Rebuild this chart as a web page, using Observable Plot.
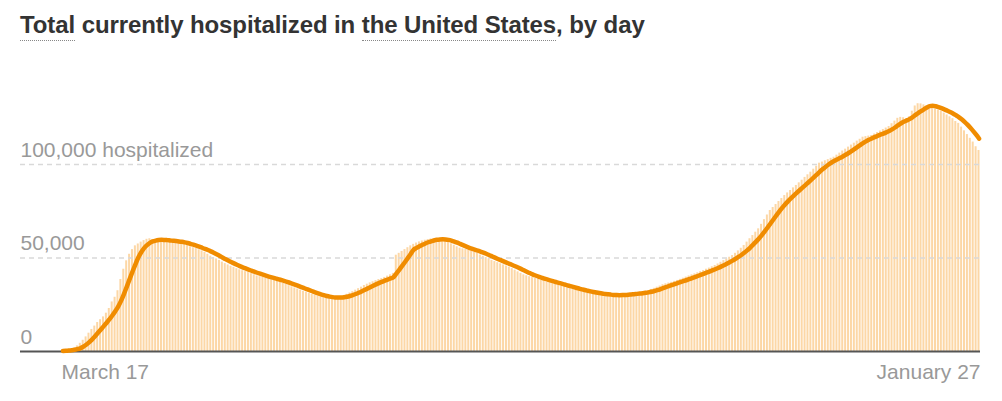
<!DOCTYPE html>
<html>
<head>
<meta charset="utf-8">
<script src="https://cdn.jsdelivr.net/npm/d3@7"></script>
<script src="https://cdn.jsdelivr.net/npm/@observablehq/plot@0.6"></script>
<style>
  body { margin: 0; background: #fff; font-family: "Liberation Sans", Arial, sans-serif; }
  #title { position: relative; height: 60px; }
  #title h2 { margin: 0; position: absolute; left: 20px; top: 11px; font-size: 24px; font-weight: bold; color: #333; line-height: 28px; white-space: nowrap; letter-spacing: -0.1px; }
  .u { border-bottom: 1px dotted #888; padding-bottom: 2px; }
  #chart svg { display: block; }
</style>
</head>
<body>
<div id="title"><h2><span class="u">Total</span> currently hospitalized in <span class="u">the United States</span>, by day</h2></div>
<div id="chart"></div>
<script>
// Daily "currently hospitalized" counts
const startDate = "2020-03-17";
const mar2020 = [300, 500, 800, 1200, 1800, 3000, 4400, 6000, 7800, 9800, 11800, 13600, 15500, 17000, 18500];
const apr2020 = [20500, 23000, 26500, 29000, 32500, 38500, 44000, 48500, 52000, 54500, 56500, 57500, 58500, 59300, 60000,
                 60300, 59800, 59600, 59500, 59400, 59200, 59100, 59000, 58700, 58500, 58200, 57800, 57200, 56600, 56000];
const may2020 = [55500, 55000, 54400, 53800, 53000, 52000, 51000, 50200, 49500, 48700, 47800, 47000, 46300, 45600, 45000, 44300,
                 43700, 43200, 42700, 42200, 41600, 41000, 40400, 40000, 39600, 39200, 38800, 38400, 38000, 37500, 37000];
const jun2020 = [36400, 35800, 35200, 34600, 34000, 33400, 32800, 32200, 31600, 31000, 30500, 30000, 29600, 29200, 28900,
                 28700, 28600, 28600, 28800, 29100, 29500, 30000, 30600, 31300, 32000, 32800, 33600, 34400, 35300, 36000];
const jul2020 = [36700, 37300, 37900, 38500, 39000, 39600, 40300, 41000, 41800, 51500, 52500, 53500, 54500, 55500, 56500, 57300,
                 58000, 58600, 59100, 59500, 59900, 60200, 60400, 60300, 60000, 59600, 59000, 58400, 57600, 56800, 56000];
const aug2020 = [55300, 54900, 54500, 54100, 53700, 53100, 52400, 51600, 50900, 50200, 49500, 48700, 48100, 47500, 46900, 46300,
                 45700, 45100, 44300, 43500, 42600, 41800, 41000, 40500, 40000, 39500, 39000, 38500, 38000, 37600, 37100];
const sep2020 = [36700, 36300, 35900, 35400, 35000, 34500, 34000, 33600, 33200, 32900, 32500, 32100, 31700, 31500, 31200,
                 31000, 30800, 30500, 30300, 30200, 30100, 30000, 30000, 30100, 30300, 30500, 30700, 30900, 31000, 31100];
const oct2020 = [31200, 31400, 31800, 32200, 32600, 33200, 33800, 34400, 35000, 35700, 36200, 36600, 37000, 37500, 38000, 38600,
                 39200, 39800, 40400, 41000, 41500, 42100, 42700, 43300, 44000, 44600, 45300, 46000, 46800, 47700, 48600];
const nov2020 = [49500, 50400, 51300, 52500, 53800, 55200, 56700, 58500, 60300, 62000, 63800, 65600, 68000, 70500, 73000,
                 75400, 77000, 78600, 80200, 81800, 83400, 84800, 86100, 87500, 88800, 90200, 91600, 93100, 94500, 95900];
const dec2020 = [97500, 99100, 100700, 101300, 102000, 102600, 103300, 103900, 105000, 106100, 107200, 108200, 109300, 110400, 111400, 112500,
                 113500, 114600, 114900, 115200, 115500, 116300, 117100, 117900, 118700, 119500, 120300, 121800, 123200, 124700, 125200];
const jan2021 = [125000, 124500, 125500, 128500, 131300, 132500, 132400, 131900, 131300, 130500, 130000, 129500, 129000, 128500,
                 127500, 126500, 125500, 124500, 123000, 122000, 120000, 118000, 116000, 114000, 112000, 109500, 107500];

const yTicks = [0, 50000, 100000];
const yTickLabels = ["0", "50,000", "100,000 hospitalized"];
const xTickLabels = ["March 17", "January 27"];

const hospitalized = [].concat(mar2020, apr2020, may2020, jun2020, jul2020, aug2020, sep2020, oct2020, nov2020, dec2020, jan2021);
const start = new Date(startDate + "T00:00:00Z");
const data = hospitalized.map((v, i) => {
  const date = d3.utcDay.offset(start, i);
  return { date, next: d3.utcDay.offset(date, 1), mid: d3.utcHour.offset(date, 12), value: v };
});
const first = data[0], last = data[data.length - 1];

const chart = Plot.plot({
  width: 1002,
  height: 341,
  marginLeft: 20,
  marginRight: 22,
  marginTop: 29.2,
  marginBottom: 50,
  style: { fontFamily: "'Liberation Sans', Arial, sans-serif", fontSize: "21px", background: "#fff", overflow: "visible" },
  x: { type: "utc", domain: [first.date, last.next], range: [61, 980], axis: null },
  y: { domain: [0, 140000], axis: null },
  marks: [
    Plot.rectY(data, { x1: "date", x2: "next", y: "value", fill: "#fcd7a6", insetLeft: 0.4, insetRight: 0.5 }),
    Plot.ruleY(yTicks.slice(1), { stroke: "#d9d9d9", strokeWidth: 1.3, strokeDasharray: "5,4" }),
    Plot.ruleY([0], { stroke: "#555", strokeWidth: 2 }),
    Plot.lineY(data, Plot.windowY({ k: 7, anchor: "end", reduce: "mean" }, {
      x: "mid", y: "value", stroke: "#f08c00", strokeWidth: 4.5, curve: "monotone-x",
      strokeLinecap: "round", strokeLinejoin: "round"
    })),
    Plot.text(yTicks, { y: d => d, text: (d, i) => yTickLabels[i], frameAnchor: "left", textAnchor: "start", lineAnchor: "bottom", dy: -8, fill: "#999" }),
    Plot.text([xTickLabels[0]], { x: () => first.date, text: d => d, frameAnchor: "bottom", textAnchor: "start", lineAnchor: "bottom", dy: 27, fill: "#999" }),
    Plot.text([xTickLabels[1]], { x: () => last.next, text: d => d, frameAnchor: "bottom", textAnchor: "end", lineAnchor: "bottom", dy: 27, fill: "#999" })
  ]
});
document.getElementById("chart").appendChild(chart);
</script>
</body>
</html>
